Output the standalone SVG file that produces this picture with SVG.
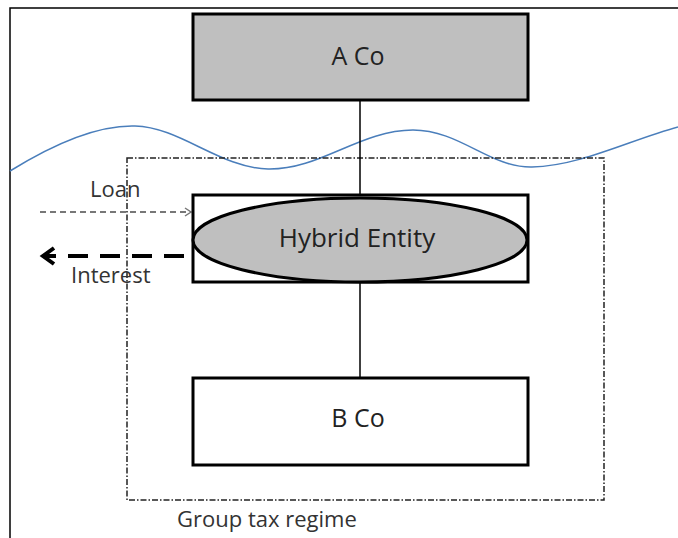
<svg xmlns="http://www.w3.org/2000/svg" width="678" height="538" viewBox="0 0 678 538">
<style>
.box{stroke:#000;stroke-width:3}
.lbl{font-family:"Open Sans","Liberation Sans",sans-serif;font-size:25px;fill:#222;text-anchor:middle}
.small{font-family:"Open Sans","Liberation Sans",sans-serif;font-size:22px;fill:#333}
</style>
<defs>
<marker id="ah1" markerWidth="10" markerHeight="10" refX="8" refY="5" orient="auto" markerUnits="userSpaceOnUse">
<path d="M2,1 L8,5 L2,9" fill="none" stroke="#777" stroke-width="1.5"/>
</marker>
<marker id="ah2" markerWidth="22" markerHeight="22" refX="15" refY="11" orient="auto" markerUnits="userSpaceOnUse">
<path d="M4,3 L15,11 L4,19" fill="none" stroke="#000" stroke-width="4"/>
</marker>
</defs>
<rect width="678" height="538" fill="#fff"/>
<path d="M10,538 V8 H678" fill="none" stroke="#000" stroke-width="1.5"/>
<path d="M10,171 C60,140 100,125 135,126 C180,127 220,168 268,169 C320,170 360,130 413,130 C460,130 490,168 532,167 C580,166 630,140 678,127" fill="none" stroke="#4a7ebb" stroke-width="1.5"/>
<rect x="127" y="158" width="477" height="342" fill="none" stroke="#222" stroke-width="1.5" stroke-dasharray="6,2,1.5,2"/>
<g id="connectors">
<line x1="360" y1="100" x2="360" y2="195" stroke="#000" stroke-width="1.5"/>
<line x1="360" y1="282" x2="360" y2="378" stroke="#000" stroke-width="1.5"/>
<line x1="40" y1="212" x2="191" y2="212" stroke="#777" stroke-width="2" stroke-dasharray="6,4" marker-end="url(#ah1)"/>
<line x1="184" y1="256" x2="43" y2="256" stroke="#000" stroke-width="4" stroke-dasharray="20,12" marker-end="url(#ah2)"/>
</g>
<g id="aco">
<rect class="box" x="193" y="14" width="335" height="86" fill="#bfbfbf"/>
<text class="lbl" x="358" y="65">A Co</text>
</g>
<g id="hybrid">
<rect class="box" x="193" y="195" width="335" height="87" fill="#fff"/>
<ellipse cx="360" cy="240" rx="167" ry="42" fill="#bfbfbf" stroke="#000" stroke-width="3"/>
<text class="lbl" x="357" y="247" style="font-size:26px">Hybrid Entity</text>
</g>
<g id="bco">
<rect class="box" x="193" y="378" width="335" height="87" fill="#fff"/>
<text class="lbl" x="358" y="427">B Co</text>
</g>
<text class="small" x="90" y="197">Loan</text>
<text class="small" x="71" y="283">Interest</text>
<text class="small" x="177" y="527">Group tax regime</text>
</svg>
